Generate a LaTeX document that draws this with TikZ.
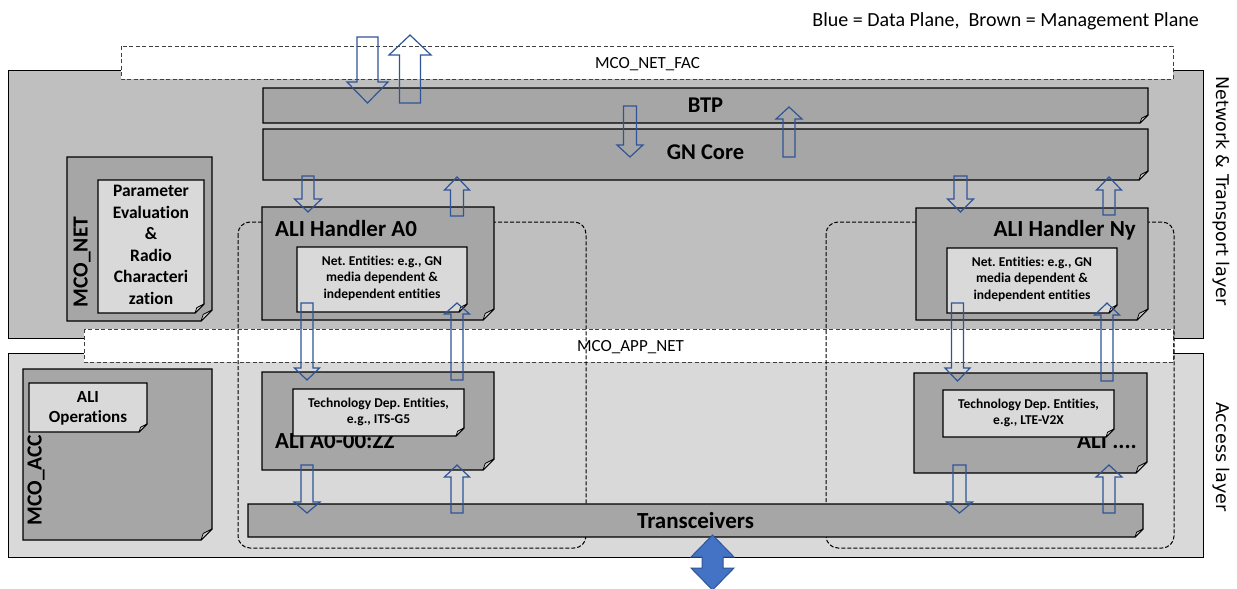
\documentclass[tikz,border=0pt]{standalone}
\usepackage{fontspec}
\setmainfont{Carlito}[Ligatures=NoCommon]
\newfontfamily\sidefont{DejaVu Sans}
\usetikzlibrary{calc}

\definecolor{netbg}{HTML}{BFBFBF}
\definecolor{accbg}{HTML}{D9D9D9}
\definecolor{boxdark}{HTML}{A6A6A6}
\definecolor{boxlight}{HTML}{D9D9D9}
\definecolor{foldgray}{HTML}{C8C8C8}
\definecolor{arrowblue}{HTML}{2F5597}
\definecolor{fillblue}{HTML}{4472C4}
\definecolor{dashgray}{HTML}{404040}

% box with a folded bottom-right corner: name, fill, fold size, x1, y1, x2, y2
\newcommand{\foldbox}[7]{%
  \path[fill=#2, draw=black, line width=1.3pt, line join=miter]
    (#4,#5) -- (#6,#5) -- (#6,#7-#3) -- (#6-#3,#7) -- (#4,#7) -- cycle;
  \path[fill=foldgray, draw=black, line width=0.7pt, line join=round]
    (#6,#7-#3) -- (#6-0.8*#3,#7-0.6*#3) -- (#6-#3,#7) -- cycle;
  \coordinate (#1) at ({(#4+#6)/2},{(#5+#7)/2});
}

% hollow block arrow: x centre, start y, head base y, tip y, body half width, head half width
\newcommand{\blockarrow}[6]{%
  \draw[hollowarrow] (#1-#5,#2) -- (#1+#5,#2) -- (#1+#5,#3) -- (#1+#6,#3)
    -- (#1,#4) -- (#1-#6,#3) -- (#1-#5,#3) -- cycle;
}

\frenchspacing
\begin{document}
\begin{tikzpicture}[x=1pt, y=-1pt,
  layerbox/.style={draw=black, line width=0.8pt},
  band/.style={fill=white, draw=dashgray, line width=0.9pt, dash pattern=on 4pt off 2.5pt},
  groupline/.style={draw=black, line width=1pt, dash pattern=on 4pt off 2pt, rounded corners=12pt},
  hollowarrow/.style={draw=arrowblue, line width=1.2pt, line join=miter},
  bigtitle/.style={font=\bfseries\fontsize{23}{26}\selectfont, inner sep=0pt},
  notetext/.style={font=\bfseries\fontsize{13.5}{16.6}\selectfont, align=center, inner sep=0pt},
  sidelabel/.style={font=\sidefont\fontsize{17.5}{20}\selectfont, rotate=-90, inner sep=0pt},
  mcolabel/.style={font=\bfseries\fontsize{21.5}{24}\selectfont, rotate=90, inner sep=0pt},
  bandtext/.style={font=\fontsize{17}{20}\selectfont, inner sep=0pt, anchor=base}
]
\useasboundingbox (0,0) rectangle (1237,589);
\clip (0,0) rectangle (1237,589);

% layer backgrounds
\path[layerbox, fill=netbg] (8,70) rectangle (1203,338);
\path[layerbox, fill=accbg] (8,353) rectangle (1203,557);

% interface bands
\path[band] (121,46) rectangle (1173,79);
\path[band] (84,329) rectangle (1173,362);

% ALI groups
\path[groupline] (238,222) rectangle (586,548);
\path[groupline] (826,222) rectangle (1174,548);

% network & transport layer entities
\foldbox{btpbox}{boxdark}{8}{263}{88}{1148}{123}
\node[font=\bfseries\fontsize{22.5}{26}\selectfont, inner sep=0pt] (btp) at (btpbox) {BTP};
\foldbox{gnbox}{boxdark}{9}{263}{129}{1148}{180}
\node[font=\bfseries\fontsize{22.5}{26}\selectfont, inner sep=0pt] (gncore) at ($(gnbox)+(0,-2)$) {GN Core};

\foldbox{mconetbox}{boxdark}{11}{67}{157}{212}{321}
\node[mcolabel] (mconet) at (82,262) {MCO\_NET};
\foldbox{parambox}{boxlight}{9}{98}{180}{204}{313}
\node[font=\bfseries\fontsize{17.5}{21.5}\selectfont, align=center, inner sep=0pt] (param) at (151,245)
  {Parameter\\Evaluation\\\&\\Radio\\Characteri\\zation};

% ALI handler A0 and its access entity
\foldbox{hA0box}{boxdark}{11}{262}{207}{494}{320}
\node[bigtitle, anchor=base west] (hA0) at (275,236) {ALI Handler A0};
\foldbox{netA0box}{boxlight}{8}{297}{247}{467}{312}
\node[notetext] (netA0) at (382,278) {Net. Entities: e.g., GN\\media dependent \&\\independent entities};

\foldbox{aliA0box}{boxdark}{11}{262}{372}{494}{470}
\node[bigtitle, anchor=base west] (aliA0) at (275,448) {ALI A0-00:ZZ};
\foldbox{techA0box}{boxlight}{8}{293}{389}{464}{436}
\node[notetext] (techA0) at (378.5,412) {Technology Dep. Entities,\\e.g., ITS-G5};

% ALI handler Ny and its access entity
\foldbox{hNybox}{boxdark}{11}{916}{208}{1148}{320}
\node[bigtitle, anchor=base east] (hNy) at (1136,236) {ALI Handler Ny};
\foldbox{netNybox}{boxlight}{8}{947}{248}{1117}{313}
\node[notetext] (netNy) at (1032,279) {Net. Entities: e.g., GN\\media dependent \&\\independent entities};

\foldbox{aliNybox}{boxdark}{11}{914}{373}{1147}{473}
\node[bigtitle, anchor=base east] (aliNy) at (1137,448) {ALI ....};
\foldbox{techNybox}{boxlight}{8}{943}{390}{1114}{437}
\node[notetext] (techNy) at (1028.5,413) {Technology Dep. Entities,\\e.g., LTE-V2X};

% access layer entities
\foldbox{trxbox}{boxdark}{8}{248}{504}{1143}{537}
\node[bigtitle] (trx) at (trxbox) {Transceivers};

\foldbox{mcoaccbox}{boxdark}{11}{23}{369}{212}{540}
\node[mcolabel] (mcoacc) at (36,480) {MCO\_ACC};
\foldbox{opsbox}{boxlight}{8}{29}{383}{147}{432}
\node[font=\bfseries\fontsize{17}{20}\selectfont, align=center, inner sep=0pt] (ops) at (88,408) {ALI\\Operations};

% data plane arrows
\blockarrow{367.5}{37}{82}{103}{10.5}{20.5}
\blockarrow{410}{103}{55}{35}{10.5}{21}
\blockarrow{630}{106}{145}{157}{6.5}{13}
\blockarrow{789}{157}{119}{107}{6}{13}

\blockarrow{308}{176}{199}{212}{6}{13.5}
\blockarrow{457}{216}{190}{177}{6.5}{12.5}
\blockarrow{307}{303}{368}{380}{6}{12.5}
\blockarrow{457}{380}{314}{303}{6}{12.5}
\blockarrow{307}{465}{502}{513}{6}{13}
\blockarrow{457}{513}{477}{465}{6}{12.5}

\blockarrow{960.5}{176}{199}{212}{6.5}{13}
\blockarrow{1109}{215}{190}{177}{6}{12.5}
\blockarrow{957.5}{303}{368}{381}{6}{12.5}
\blockarrow{1107}{381}{315}{303}{6}{12.5}
\blockarrow{959.5}{465}{502}{513}{6.5}{13}
\blockarrow{1109}{513}{477}{465}{6}{13}

% radio interface
\draw[fill=fillblue, draw=arrowblue, line width=1pt, line join=miter]
  (712.5,535) -- (734,557) -- (723,557) -- (723,568) -- (734,568) -- (712.5,590)
  -- (691,568) -- (702,568) -- (702,557) -- (691,557) -- cycle;

% band and layer labels
\node[bandtext] (netfac) at (647.5,68) {MCO\_NET\_FAC};
\node[bandtext] (appnet) at (630.5,351.5) {MCO\_APP\_NET};
\node[sidelabel] (netlayer) at (1221,191) {Network \& Transport layer};
\node[sidelabel] (acclayer) at (1221,457) {Access layer};
\node[font=\fontsize{20}{22}\selectfont, inner sep=0pt, anchor=base east] (legend) at (1199,27)
  {Blue = Data Plane,\ \ Brown = Management Plane};
\end{tikzpicture}
\end{document}
